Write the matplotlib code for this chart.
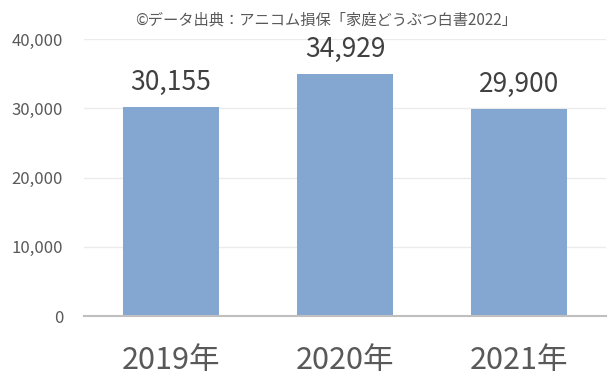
import numpy as np
import matplotlib
matplotlib.use('Agg')
import matplotlib.pyplot as plt

plt.rcParams['font.family'] = ['Noto Sans CJK JP', 'DejaVu Sans']

# data
years = ['2019年', '2020年', '2021年']
values = [30155, 34929, 29900]
yticks = [0, 10000, 20000, 30000, 40000]
source = '©データ出典：アニコム損保「家庭どうぶつ白書2022」'

text_col = '#595959'
bar_col = '#84A7D1'

fig = plt.figure(figsize=(6.11, 3.84), dpi=100)
ax = fig.add_axes([0.1375, 0.177, 0.8545, 0.721])

x = np.arange(len(years))
bars = ax.bar(x, values, width=0.555, color=bar_col, zorder=2)

# data labels above bars
for xi, v in zip(x, values):
    ax.annotate(f'{v:,}', (xi, v), xytext=(0, 18), textcoords='offset points',
                ha='center', va='center', fontsize=19, color='#404040')

ax.set_xlim(-0.5, len(years) - 0.5)
ax.set_ylim(0, 40000)
ax.set_yticks(yticks)
ax.set_yticklabels([f'{t:,}' for t in yticks])
ax.set_xticks(x)
ax.set_xticklabels(years)

ax.tick_params(axis='y', length=0, pad=15, labelsize=12, labelcolor=text_col)
ax.tick_params(axis='x', length=0, pad=21, labelsize=22, labelcolor=text_col)

ax.grid(True, axis='y', color='#EBEBEB', linewidth=1, zorder=0)
for s in ['top', 'right', 'left']:
    ax.spines[s].set_visible(False)
ax.spines['bottom'].set_color('#BFBFBF')
ax.spines['bottom'].set_linewidth(1.5)
ax.spines['bottom'].set_zorder(3)

fig.text(0.534, 0.948, source, ha='center', va='center', fontsize=11, color=text_col)

plt.savefig('out.png', dpi=100)
